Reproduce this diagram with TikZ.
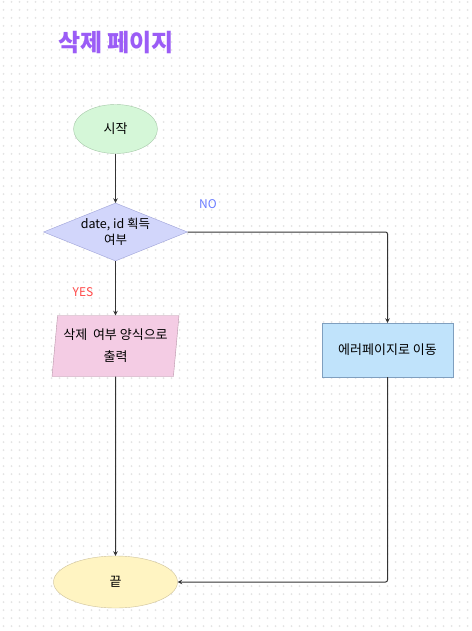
\documentclass[tikz,border=0pt]{standalone}
\usepackage{fontspec}
\setmainfont{Noto Sans CJK KR}
\usetikzlibrary{shapes.geometric,arrows.meta}
\definecolor{titlepurple}{HTML}{9B5CF6}
\definecolor{startfill}{HTML}{D5F7D8}
\definecolor{startline}{HTML}{A5C8A8}
\definecolor{checkfill}{HTML}{D2D6FB}
\definecolor{checkline}{HTML}{9EA2D8}
\definecolor{outfill}{HTML}{F4CCE4}
\definecolor{outline}{HTML}{B894A8}
\definecolor{errfill}{HTML}{C0E3FB}
\definecolor{errline}{HTML}{7F9FBF}
\definecolor{endfill}{HTML}{FFF4C2}
\definecolor{endline}{HTML}{CEC29A}
\definecolor{nocolor}{HTML}{6A7CFF}
\definecolor{yescolor}{HTML}{FF4A4A}
\definecolor{dotgray}{HTML}{E4E4E4}
\definecolor{wire}{HTML}{333333}
\begin{document}
\begin{tikzpicture}[x=1pt, y=-1pt,
        every node/.style={font=\fontsize{13}{15}\selectfont},
        terminal/.style={ellipse, inner sep=0pt},
        decision/.style={diamond, fill=checkfill, draw=checkline, inner sep=0pt, minimum width=144pt, minimum height=58pt},
        output/.style={trapezium, trapezium left angle=81.6, trapezium right angle=98.4, trapezium stretches body=true, fill=outfill, draw=outline, minimum width=127pt, minimum height=61pt, align=center, inner sep=2pt},
        process/.style={rectangle, fill=errfill, draw=errline, minimum width=131pt, minimum height=54pt},
        flow/.style={wire, line width=1pt, rounded corners=2pt, -{Stealth[length=4.5pt,width=4.5pt]}}]
        \useasboundingbox (0, 0) rectangle (471, 631);
        \fill[white] (0, 0) rectangle (471, 631);
        \foreach \i in {0,...,58}
            \foreach \j in {0,...,78}
                \fill[dotgray] (3.5 + 8*\i, 2 + 8*\j) circle (1);

        \node[text=titlepurple, font=\fontsize{24}{28}\selectfont\bfseries] (title) at (116, 43) {삭제 페이지};

        \node[terminal, fill=startfill, draw=startline, minimum width=84pt, minimum height=49pt] (start) at (115.5, 129) {시작};
        \node[decision] (check) at (115.5, 232) {};
        \node[align=center, font=\fontsize{12.5}{16.5}\selectfont] (checktext) at (115.5, 232) {date, id 획득\\여부};
        \node[output, font=\fontsize{13}{22}\selectfont] (delform) at (115.5, 346) {삭제\ \ 여부 양식으로\\출력};
        \node[process] (errpage) at (387.5, 350) {에러페이지로 이동};
        \node[terminal, fill=endfill, draw=endline, minimum width=124pt, minimum height=52pt] (finish) at (115.5, 582) {끝};

        \node[text=nocolor, font=\fontsize{12}{14}\selectfont] (nolabel) at (208, 204) {NO};
        \node[text=yescolor, font=\fontsize{12}{14}\selectfont] (yeslabel) at (83, 292) {YES};

        \coordinate (noturn) at (387.5, 232);
        \coordinate (endturn) at (387.5, 582);

        \draw[flow] (start) -- (check);
        \draw[flow] (check) -- (delform);
        \draw[flow] (delform) -- (finish);
        \draw[flow] (check.east) -- (noturn) -- (errpage.north);
        \draw[flow] (errpage.south) -- (endturn) -- (finish.east);
    \end{tikzpicture}
\end{document}
